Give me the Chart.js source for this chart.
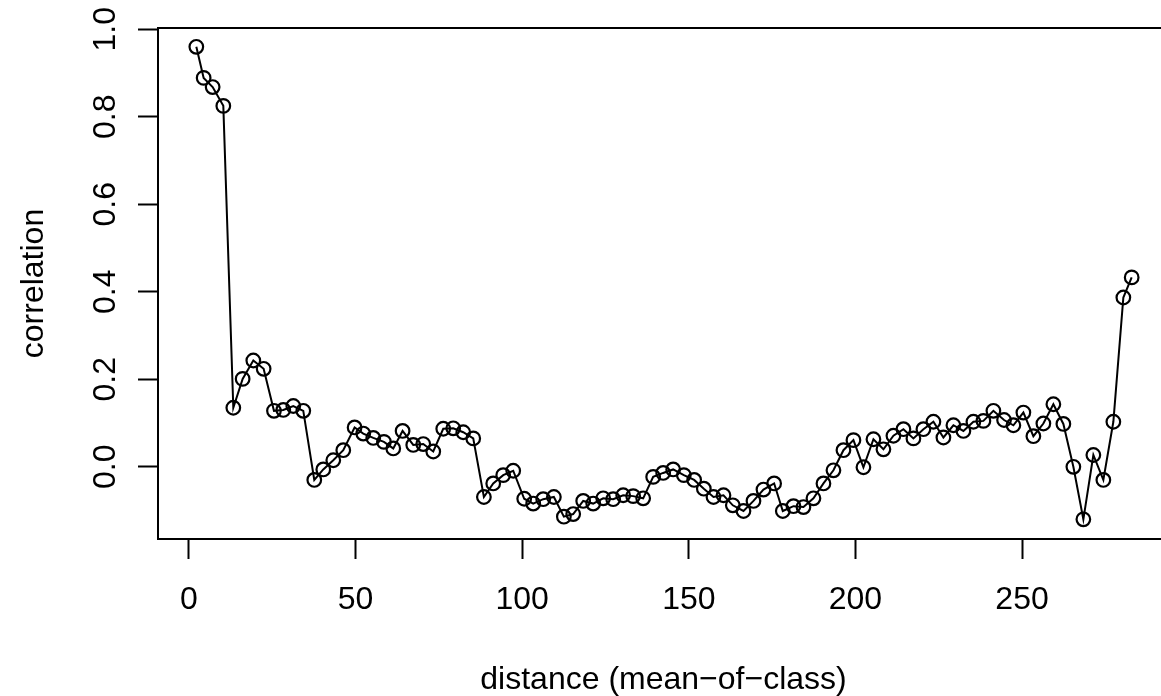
<!DOCTYPE html>
<html>
<head>
<meta charset="utf-8">
<script src="https://cdn.jsdelivr.net/npm/chart.js@4/dist/chart.umd.min.js"></script>
<style>
	html, body { margin: 0; padding: 0; background: #fff; overflow: hidden; }
	#wrap { width: 1161px; height: 696px; overflow: hidden; position: relative; }
	canvas { position: absolute; left: 0; top: 0; }
</style>
</head>
<body>
<div id="wrap"><canvas id="correlog" width="1180" height="696"></canvas></div>
<script>
// distance class means and correlation
var distance = [
	2.2, 4.4, 7.1, 10.3, 13.3, 16.1, 19.3, 22.4, 25.5, 28.3,
	31.3, 34.3, 37.6, 40.3, 43.3, 46.3, 49.7, 52.3, 55.3, 58.5,
	61.3, 64.1, 67.3, 70.3, 73.3, 76.3, 79.3, 82.3, 85.3, 88.5,
	91.3, 94.3, 97.3, 100.6, 103.3, 106.3, 109.5, 112.5, 115.3, 118.3,
	121.3, 124.3, 127.3, 130.3, 133.3, 136.3, 139.3, 142.3, 145.3, 148.5,
	151.6, 154.5, 157.4, 160.4, 163.2, 166.4, 169.4, 172.4, 175.6, 178.2,
	181.4, 184.4, 187.4, 190.4, 193.4, 196.4, 199.4, 202.4, 205.4, 208.4,
	211.4, 214.4, 217.4, 220.4, 223.4, 226.4, 229.4, 232.4, 235.4, 238.4,
	241.4, 244.6, 247.4, 250.4, 253.4, 256.4, 259.4, 262.4, 265.4, 268.4,
	271.4, 274.4, 277.4, 280.4, 282.9
];
var correlation = [
	0.960, 0.889, 0.868, 0.825, 0.135, 0.201, 0.243, 0.224, 0.128, 0.130,
	0.139, 0.128, -0.030, -0.006, 0.015, 0.038, 0.090, 0.076, 0.066, 0.057,
	0.042, 0.082, 0.050, 0.052, 0.035, 0.087, 0.088, 0.079, 0.065, -0.069,
	-0.038, -0.019, -0.009, -0.073, -0.084, -0.074, -0.069, -0.114, -0.108, -0.078,
	-0.084, -0.072, -0.074, -0.065, -0.067, -0.072, -0.023, -0.014, -0.006, -0.019,
	-0.030, -0.050, -0.069, -0.065, -0.088, -0.101, -0.078, -0.052, -0.038, -0.101,
	-0.090, -0.092, -0.072, -0.038, -0.008, 0.038, 0.061, -0.001, 0.063, 0.040,
	0.071, 0.086, 0.065, 0.086, 0.103, 0.067, 0.095, 0.082, 0.103, 0.105,
	0.128, 0.107, 0.095, 0.124, 0.070, 0.099, 0.143, 0.098, 0.000, -0.120,
	0.027, -0.030, 0.103, 0.387, 0.433
];
var xTicks = [0, 50, 100, 150, 200, 250];
var yTicks = [0, 0.2, 0.4, 0.6, 0.8, 1.0];
var yTickLabels = ["0.0", "0.2", "0.4", "0.6", "0.8", "1.0"];
var xTitle = "distance (mean\u2212of\u2212class)";
var yTitle = "correlation";

var font = '32px "Liberation Sans", Arial, sans-serif';

var points = distance.map(function (d, i) {
	return { x: d, y: correlation[i] };
});

// box + R style labels
var rFrame = {
	id: "rFrame",
	afterDraw: function (chart) {
		var ctx = chart.ctx;
		var area = chart.chartArea;
		var xs = chart.scales.x;
		var ys = chart.scales.y;
		ctx.save();
		ctx.strokeStyle = "#000";
		ctx.lineWidth = 2;
		ctx.strokeRect(area.left, area.top, area.right - area.left, area.bottom - area.top);

		ctx.fillStyle = "#000";
		ctx.font = font;
		ctx.textAlign = "center";
		ctx.textBaseline = "alphabetic";
		xTicks.forEach(function (v) {
			ctx.fillText(String(v), xs.getPixelForValue(v), 609);
		});
		ctx.fillText(xTitle, (area.left + area.right) / 2, 689);

		yTicks.forEach(function (v, i) {
			ctx.save();
			ctx.translate(115, ys.getPixelForValue(v));
			ctx.rotate(-Math.PI / 2);
			ctx.fillText(yTickLabels[i], 0, 0);
			ctx.restore();
		});
		ctx.save();
		ctx.translate(43, (area.top + area.bottom) / 2);
		ctx.rotate(-Math.PI / 2);
		ctx.fillText(yTitle, 0, 0);
		ctx.restore();
		ctx.restore();
	}
};

var gridOpts = {
	drawOnChartArea: false,
	drawTicks: true,
	tickLength: 20,
	tickWidth: 2,
	tickColor: "#000",
	color: "#000"
};

new Chart(document.getElementById("correlog").getContext("2d"), {
	type: "line",
	data: {
		datasets: [{
			data: points,
			borderColor: "#000",
			borderWidth: 2,
			tension: 0,
			fill: false,
			pointRadius: 6.8,
			pointBorderWidth: 2.2,
			pointBorderColor: "#000",
			pointBackgroundColor: "rgba(0,0,0,0)"
		}]
	},
	options: {
		responsive: false,
		animation: false,
		layout: { padding: { left: 0, top: 28, right: 11, bottom: 0 } },
		plugins: {
			legend: { display: false },
			tooltip: { enabled: false }
		},
		scales: {
			x: {
				type: "linear",
				min: -9.3,
				max: 294.1,
				border: { display: false },
				grid: gridOpts,
				ticks: { display: false },
				afterBuildTicks: function (scale) {
					scale.ticks = xTicks.map(function (v) { return { value: v }; });
				},
				afterFit: function (scale) {
					scale.height = 157;
				}
			},
			y: {
				type: "linear",
				min: -0.165,
				max: 1.003,
				border: { display: false },
				grid: gridOpts,
				ticks: { display: false },
				afterBuildTicks: function (scale) {
					scale.ticks = yTicks.map(function (v) { return { value: v }; });
				},
				afterFit: function (scale) {
					scale.width = 158;
				}
			}
		}
	},
	plugins: [rFrame]
});
</script>
</body>
</html>
